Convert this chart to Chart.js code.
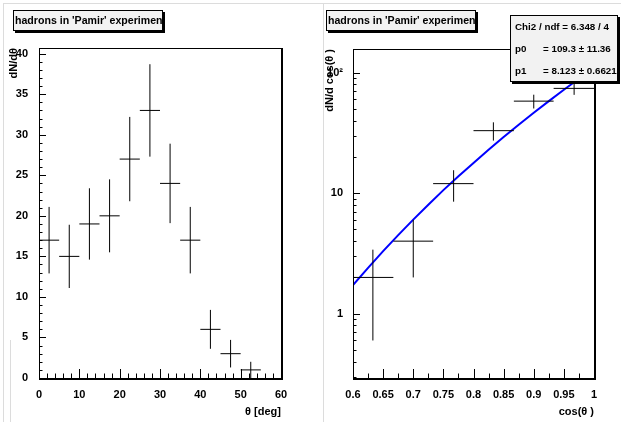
<!DOCTYPE html>
<html>
<head>
<meta charset="utf-8">
<script src="https://cdn.jsdelivr.net/npm/chart.js@4/dist/chart.umd.min.js"></script>
<style>
  html, body { margin: 0; padding: 0; background: #fff; }
  #wrap { position: relative; width: 621px; height: 422px; overflow: hidden; }
  #left { position: absolute; left: 0; top: 0; width: 310px; height: 422px; }
  #right { position: absolute; left: 310px; top: 0; width: 311px; height: 422px; }
</style>
</head>
<body>
<div id="wrap">
  <canvas id="left" width="310" height="422"></canvas>
  <canvas id="right" width="311" height="422"></canvas>
</div>
<script>
// left pad: dN/dtheta histogram
const thetaLo = [0, 5, 10, 15, 20, 25, 30, 35, 40, 45, 50];
const thetaHi = [5, 10, 15, 20, 25, 30, 35, 40, 45, 50, 55];
const thetaMid = [2.5, 7.5, 12.5, 17.5, 22.5, 27.5, 32.5, 37.5, 42.5, 47.5, 52.5];
const thetaCounts = [17, 15, 19, 20, 27, 33, 24, 17, 6, 3, 1];
const thetaErrs = [4.1, 3.9, 4.4, 4.5, 5.2, 5.7, 4.9, 4.1, 2.4, 1.7, 1.0];

// right pad: dN/dcos(theta) histogram + fitted curve
const cosLo = [0.6, 0.667, 0.733, 0.8, 0.867, 0.933];
const cosHi = [0.667, 0.733, 0.8, 0.867, 0.933, 1.0];
const cosMid = [0.633, 0.7, 0.767, 0.833, 0.9, 0.967];
const cosCounts = [2, 4, 12, 33, 58, 74];
const cosErrs = [1.4, 2.0, 3.5, 5.7, 7.6, 8.6];
const fitX = [0.6, 0.625, 0.65, 0.675, 0.7, 0.725, 0.75, 0.775, 0.8, 0.825, 0.85, 0.875, 0.9, 0.925, 0.95, 0.975, 1.0];
const fitY = [1.73, 2.40, 3.31, 4.49, 6.03, 8.02, 10.6, 13.8, 17.8, 22.9, 29.2, 36.9, 46.5, 58.0, 72.1, 89.0, 109.3];

// tick labels
const thetaTicks = [0, 10, 20, 30, 40, 50, 60];
const countTicks = [0, 5, 10, 15, 20, 25, 30, 35, 40];
const cosTicks = [0.6, 0.65, 0.7, 0.75, 0.8, 0.85, 0.9, 0.95, 1];
const cosTickLabels = ['0.6', '0.65', '0.7', '0.75', '0.8', '0.85', '0.9', '0.95', '1'];
const logTicks = [1, 10, 100];
const logTickLabels = ['1', '10', '10²'];

const FONT = "'Liberation Sans', Arial, Helvetica, sans-serif";
Chart.defaults.font.family = FONT;
Chart.defaults.color = '#000';

function steps(from, to, step) {
  const out = [];
  for (let i = 0; from + i * step <= to + 1e-9; i++) out.push(+(from + i * step).toFixed(4));
  return out;
}

function drawBox(ctx, x, y, w, h) {
  ctx.fillStyle = '#000';
  ctx.fillRect(x + 2, y + 2, w, h);
  ctx.fillStyle = '#f2f2f2';
  ctx.fillRect(x, y, w, h);
  ctx.strokeStyle = '#000';
  ctx.lineWidth = 1;
  ctx.strokeRect(x + 0.5, y + 0.5, w - 1, h - 1);
}

function titleBox(ctx, x) {
  const y = 10, w = 150, h = 21;
  drawBox(ctx, x, y, w, h);
  ctx.save();
  ctx.beginPath();
  ctx.rect(x + 1, y + 1, w - 2, h - 2);
  ctx.clip();
  ctx.fillStyle = '#000';
  ctx.font = 'bold 10.6px ' + FONT;
  ctx.textBaseline = 'middle';
  ctx.fillText("hadrons in 'Pamir' experiment", x + 2, y + h / 2 + 0.5);
  ctx.restore();
}

function crossPlugin(lo, hi, mid, vals, errs) {
  return {
    id: 'crosses',
    afterDatasetsDraw(chart) {
      const { ctx, chartArea: a, scales: { x, y } } = chart;
      ctx.save();
      ctx.beginPath();
      ctx.rect(a.left, a.top, a.right - a.left, a.bottom - a.top);
      ctx.clip();
      ctx.strokeStyle = '#000';
      ctx.lineWidth = 1;
      ctx.beginPath();
      vals.forEach((v, i) => {
        const py = y.getPixelForValue(v);
        const px = x.getPixelForValue(mid[i]);
        ctx.moveTo(x.getPixelForValue(lo[i]), py);
        ctx.lineTo(x.getPixelForValue(hi[i]), py);
        ctx.moveTo(px, y.getPixelForValue(v + errs[i]));
        ctx.lineTo(px, y.getPixelForValue(v - errs[i]));
      });
      ctx.stroke();
      ctx.restore();
    }
  };
}

function framePlugin(o) {
  return {
    id: 'frame',
    beforeDraw(chart) {
      // pad border lines, under everything else
      const ctx = chart.ctx;
      ctx.save();
      ctx.strokeStyle = '#dcdcdc';
      ctx.lineWidth = 1;
      ctx.beginPath();
      o.padLines.forEach(l => { ctx.moveTo(l[0], l[1]); ctx.lineTo(l[2], l[3]); });
      ctx.stroke();
      ctx.restore();
    },
    afterDraw(chart) {
      const { ctx, chartArea: a, scales: { x, y } } = chart;
      ctx.save();
      ctx.strokeStyle = '#000';
      ctx.lineWidth = 1;
      ctx.beginPath();
      o.xMajor.forEach(v => {
        const px = Math.round(x.getPixelForValue(v)) + 0.5;
        ctx.moveTo(px, a.bottom); ctx.lineTo(px, a.bottom - o.xLen);
      });
      o.xMinor.forEach(v => {
        const px = Math.round(x.getPixelForValue(v)) + 0.5;
        ctx.moveTo(px, a.bottom); ctx.lineTo(px, a.bottom - o.xLen / 2);
      });
      o.yMajor.forEach(v => {
        const py = Math.round(y.getPixelForValue(v)) + 0.5;
        ctx.moveTo(a.left, py); ctx.lineTo(a.left + o.yLen, py);
      });
      o.yMinor.forEach(v => {
        const py = Math.round(y.getPixelForValue(v)) + 0.5;
        ctx.moveTo(a.left, py); ctx.lineTo(a.left + o.yLen / 2, py);
      });
      ctx.stroke();

      // frame
      ctx.strokeRect(Math.round(a.left) + 0.5, Math.round(a.top) + 0.5,
        Math.round(a.right - a.left), Math.round(a.bottom - a.top));
      ctx.lineWidth = 2;
      ctx.beginPath();
      ctx.moveTo(a.left, Math.round(a.bottom) + 1);
      ctx.lineTo(Math.round(a.right) + 2, Math.round(a.bottom) + 1);
      ctx.moveTo(Math.round(a.right) + 1, a.top);
      ctx.lineTo(Math.round(a.right) + 1, Math.round(a.bottom) + 1);
      ctx.stroke();
      ctx.restore();

      titleBox(ctx, o.titleX);
      if (o.stats) o.stats(ctx);
    }
  };
}

const tickFont = { family: FONT, size: 11, weight: 'bold' };
const titleFont = { family: FONT, size: 11, weight: 'bold' };

// ---- left chart ----
new Chart(document.getElementById('left'), {
  type: 'scatter',
  data: {
    datasets: [{
      data: thetaMid.map((m, i) => ({ x: m, y: thetaCounts[i] })),
      pointRadius: 0,
      showLine: false
    }]
  },
  options: {
    responsive: false,
    animation: false,
    layout: { padding: { left: 0, right: 29, top: 48, bottom: 0 } },
    plugins: { legend: { display: false }, tooltip: { enabled: false } },
    scales: {
      x: {
        type: 'linear', min: 0, max: 60, bounds: 'data',
        afterBuildTicks: s => { s.ticks = thetaTicks.map(v => ({ value: v })); },
        afterFit: s => { s.height = 44; },
        grid: { display: false }, border: { display: false },
        ticks: { font: tickFont, color: '#000', padding: 2, autoSkip: false, maxRotation: 0 },
        title: { display: true, text: 'θ [deg]', align: 'end', font: titleFont, color: '#000', padding: { top: 0, bottom: 3 } }
      },
      y: {
        type: 'linear', min: 0, max: 40.7, bounds: 'data',
        afterBuildTicks: s => { s.ticks = countTicks.map(v => ({ value: v })); },
        afterFit: s => { s.width = 39; },
        grid: { display: false }, border: { display: false },
        ticks: { font: tickFont, color: '#000', padding: 3, autoSkip: false },
        title: { display: true, text: 'dN/dθ', align: 'end', font: titleFont, color: '#000', padding: { top: 7, bottom: 0 } }
      }
    }
  },
  plugins: [
    crossPlugin(thetaLo, thetaHi, thetaMid, thetaCounts, thetaErrs),
    framePlugin({
      xMajor: thetaTicks, xMinor: steps(0, 60, 2), xLen: 9,
      yMajor: countTicks, yMinor: steps(0, 40, 1), yLen: 7,
      titleX: 13,
      padLines: [[3, 3.5, 310, 3.5], [3.5, 3, 3.5, 422], [10.5, 340, 10.5, 422]]
    })
  ]
});

// ---- right chart ----
const logMinor = [].concat(steps(0.3, 0.9, 0.1), steps(2, 9, 1), steps(20, 90, 10));

new Chart(document.getElementById('right'), {
  type: 'scatter',
  data: {
    datasets: [{
      data: fitX.map((v, i) => ({ x: v, y: fitY[i] })),
      showLine: true,
      borderColor: '#0000ff',
      borderWidth: 2,
      pointRadius: 0,
      tension: 0
    }]
  },
  options: {
    responsive: false,
    animation: false,
    layout: { padding: { left: 0, right: 27, top: 49, bottom: 0 } },
    plugins: { legend: { display: false }, tooltip: { enabled: false } },
    scales: {
      x: {
        type: 'linear', min: 0.6, max: 1.0, bounds: 'data',
        afterBuildTicks: s => { s.ticks = cosTicks.map(v => ({ value: v })); },
        afterFit: s => { s.height = 44; },
        grid: { display: false }, border: { display: false },
        ticks: {
          font: tickFont, color: '#000', padding: 2, autoSkip: false, maxRotation: 0,
          callback: (v, i) => cosTickLabels[i]
        },
        title: { display: true, text: 'cos(θ )', align: 'end', font: titleFont, color: '#000', padding: { top: 0, bottom: 3 } }
      },
      y: {
        type: 'logarithmic', min: 0.293, max: 157, bounds: 'data',
        afterBuildTicks: s => { s.ticks = logTicks.map(v => ({ value: v })); },
        afterFit: s => { s.width = 43; },
        grid: { display: false }, border: { display: false },
        ticks: {
          font: tickFont, color: '#000', padding: 2, autoSkip: false,
          callback: (v, i) => logTickLabels[i]
        },
        title: { display: true, text: 'dN/d cos(θ )', align: 'end', font: titleFont, color: '#000', padding: { top: 13, bottom: 0 } }
      }
    }
  },
  plugins: [
    crossPlugin(cosLo, cosHi, cosMid, cosCounts, cosErrs),
    framePlugin({
      xMajor: cosTicks, xMinor: steps(0.6, 1.0, 0.025), xLen: 9,
      yMajor: logTicks, yMinor: logMinor, yLen: 7,
      titleX: 16,
      padLines: [[0, 3.5, 311, 3.5], [13.5, 3, 13.5, 422]],
      stats: ctx => {
        const bx = 200, by = 15, bw = 108, bh = 67;
        drawBox(ctx, bx, by, bw, bh);
        ctx.fillStyle = '#000';
        ctx.font = 'bold 9.8px ' + FONT;
        ctx.textBaseline = 'middle';
        ctx.fillText('Chi2 / ndf = 6.348 / 4', bx + 5, 27);
        ctx.fillText('p0', bx + 5, 49);
        ctx.fillText('= 109.3 ± 11.36', bx + 33, 49);
        ctx.fillText('p1', bx + 5, 71);
        ctx.fillText('= 8.123 ± 0.6621', bx + 33, 71);
      }
    })
  ]
});
</script>
</body>
</html>
